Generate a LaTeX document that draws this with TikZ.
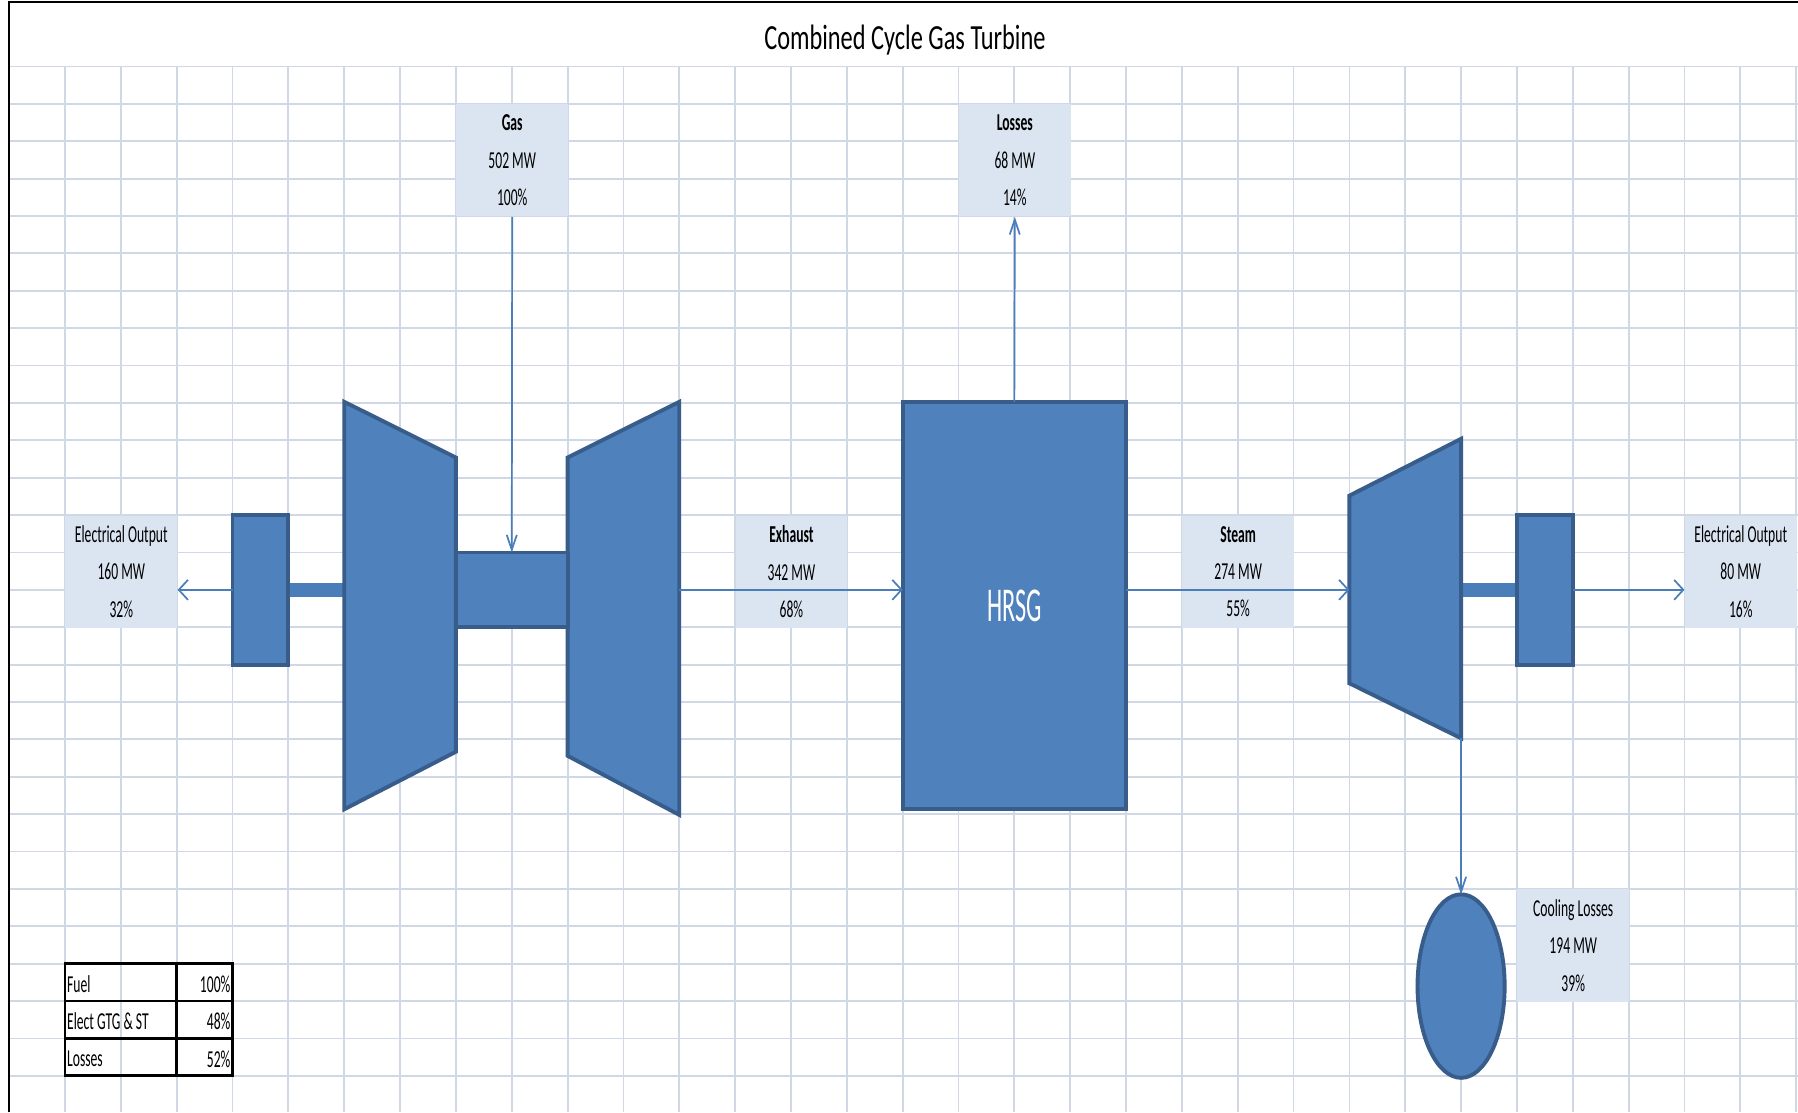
\documentclass[tikz,border=0pt]{standalone}
\usepackage{fontspec}
\setmainfont{Carlito}
\newfontfamily\lblfont{Carlito}[FakeStretch=0.56]
\newfontfamily\ttlfont{Carlito}[FakeStretch=0.69]
\newfontfamily\hrsgfont{Carlito}[FakeStretch=0.5]
\usetikzlibrary{positioning}
\usetikzlibrary{shapes.geometric}
\usetikzlibrary{arrows.meta}

\definecolor{gridblue}{HTML}{D0D7E5}
\definecolor{unitfill}{HTML}{4F81BD}
\definecolor{unitline}{HTML}{385D8A}
\definecolor{flowblue}{HTML}{4A7EBB}
\definecolor{labelfill}{HTML}{DBE5F1}

\tikzset{
  gridline/.style={draw=gridblue, line width=0.8pt},
  unitshape/.style={fill=unitfill, draw=unitline, line width=1.7pt, outer sep=0pt},
  flowlabel/.style={fill=labelfill, anchor=north west, inner sep=0pt,
    minimum width=48.7pt, minimum height=48.9pt, align=center,
    execute at begin node={\rule{0pt}{10.5pt}},
    font=\lblfont\fontsize{10.6}{16.3}\selectfont},
  hflow/.style={draw=flowblue, line width=0.75pt,
    -{Straight Barb[length=4pt,width=8.7pt]}},
  vflow/.style={draw=flowblue, line width=0.75pt,
    -{Straight Barb[length=6.5pt,width=4.4pt]}},
  tbl/.style={draw=black, line width=1.2pt},
  tbltext/.style={inner sep=0pt, font=\lblfont\fontsize{10.6}{16.3}\selectfont}
}

\begin{document}
\begin{tikzpicture}[x=24.35pt, y=-16.3pt]

\useasboundingbox (-0.1643,-1.7791) rectangle (32.033,27.975);
\fill[white] (-0.1643,-1.7791) rectangle (32.033,27.975);

% sheet grid
\foreach \c in {1,...,32} \draw[gridline] (\c,0) -- (\c,27.975);
\foreach \r in {0,...,27} \draw[gridline] (0,\r) -- (32.033,\r);
% sheet border
\draw[black, line width=1pt] (0,27.975) -- (0,-1.718) -- (32.033,-1.718);

% title
\node[font=\ttlfont\fontsize{15.4}{18}\selectfont] (title) at (16.04,-0.7) {Combined Cycle Gas Turbine};

% labels
\node[flowlabel] (elecL) at (1,12) {Electrical Output\\160 MW\\32\%};
\node[flowlabel] (gaslbl) at (8,1) {\textbf{Gas}\\502 MW\\100\%};
\node[flowlabel] (exhlbl) at (13,12) {\textbf{Exhaust}\\342 MW\\68\%};
\node[flowlabel] (losslbl) at (17,1) {\textbf{Losses}\\68 MW\\14\%};
\node[flowlabel] (steamlbl) at (21,12) {\textbf{Steam}\\274 MW\\55\%};
\node[flowlabel] (elecR) at (30,12) {Electrical Output\\80 MW\\16\%};
\node[flowlabel] (coollbl) at (27,22) {Cooling Losses\\194 MW\\39\%};

% shafts
\fill[flowblue] (5,13.82) rectangle (6,14.18);
\fill[flowblue] (26,13.82) rectangle (27,14.18);

% gas turbine: compressor, combustor, turbine
\draw[unitshape] (6,8.97) -- (8,10.46) -- (8,18.33) -- (6,19.87) -- cycle;
\draw[unitshape] (10,10.46) -- (12,8.97) -- (12,20.02) -- (10,18.44) -- cycle;
\node[unitshape, anchor=north west, inner sep=0pt, minimum width=48.7pt, minimum height=32.6pt] (comb) at (8,13) {};
\coordinate (gt-out) at (12,14);

% generators
\node[unitshape, anchor=north west, inner sep=0pt, minimum width=24.35pt, minimum height=65.2pt] (genL) at (4,12) {};
\node[unitshape, anchor=north west, inner sep=0pt, minimum width=24.35pt, minimum height=65.2pt] (genR) at (27,12) {};

% HRSG
\node[unitshape, inner sep=0pt, minimum width=97.4pt, minimum height=177.7pt,
  text=white, font=\hrsgfont\fontsize{21.2}{24}\selectfont] (hrsg) at (18,14.42) {HRSG};

% steam turbine
\draw[unitshape] (24,11.48) -- (26,9.96) -- (26,17.97) -- (24,16.5) -- cycle;
\coordinate (st-in) at (24,14);
\coordinate (st-bot) at (26,17.97);

% condenser
\node[unitshape, ellipse, inner sep=0pt, minimum width=38pt, minimum height=80pt] (cool) at (26,24.6) {};

% flows
\draw[vflow] (gaslbl.south) -- (comb.north);
\draw[hflow] (gt-out) -- (gt-out -| hrsg.west);
\draw[vflow] (hrsg.north) -- (losslbl.south);
\draw[hflow] (hrsg.east |- st-in) -- (st-in);
\draw[vflow] (st-bot) -- (cool.north);
\draw[hflow] (genL.west) -- (genL.west -| elecL.east);
\draw[hflow] (genR.east) -- (genR.east -| elecR.west);

% efficiency table
\draw[tbl] (1,24) rectangle (4,27);
\draw[tbl] (3,24) -- (3,27) (1,25) -- (4,25) (1,26) -- (4,26);
\foreach \r/\nm/\txt/\val in {24/fuel/Fuel/100\%, 25/elect/Elect GTG \& ST/48\%, 26/loss/Losses/52\%}{
  \node[tbltext, anchor=west] (\nm-name) at (1.03,\r+0.55) {\txt};
  \node[tbltext, anchor=east] (\nm-val) at (3.97,\r+0.55) {\val};
}

\end{tikzpicture}
\end{document}
